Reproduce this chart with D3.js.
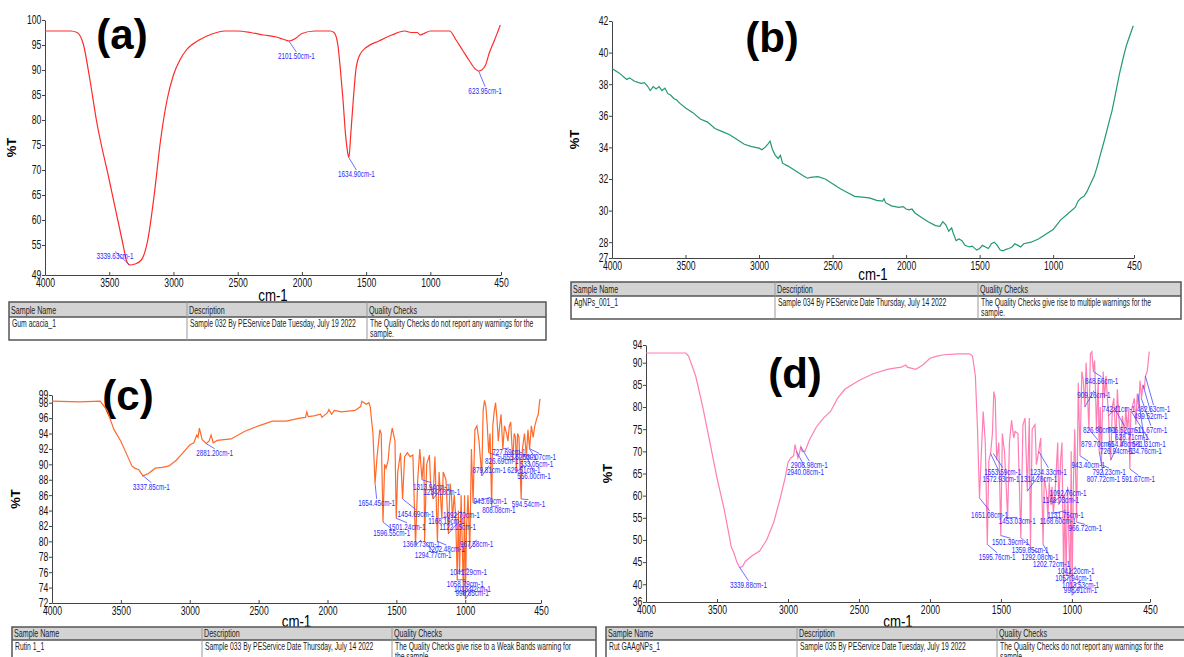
<!DOCTYPE html>
<html>
<head>
<meta charset="utf-8">
<script src="https://cdn.jsdelivr.net/npm/d3@7"></script>
<style>
  body { margin: 0; background: #fff; }
  text { font-family: "Liberation Sans", Arial, sans-serif; }
</style>
</head>
<body>
<div id="chart"></div>
<script>
// ---- data ----
var xTicks = [4000, 3500, 3000, 2500, 2000, 1500, 1000, 450];

var specA = [[4000,97.8],[3800,97.8],[3750,97.5],[3700,95],[3650,88],[3600,80],[3500,68],[3400,56],[3360,51.5],[3340,51],[3300,51.2],[3250,52],[3200,56],[3150,65],[3100,76],[3050,84],[3000,89],[2950,92],[2900,94],[2800,96],[2700,97.2],[2600,97.8],[2500,97.8],[2400,97.5],[2300,97],[2200,96.6],[2150,96.2],[2100,95.8],[2050,96.3],[2000,97.3],[1900,97.8],[1780,97.8],[1750,97.5],[1720,95],[1700,90],[1680,84],[1660,77],[1640,73],[1634,72.5],[1620,77],[1600,84],[1580,90],[1550,93],[1500,94.5],[1400,95.8],[1300,97],[1200,97.8],[1150,97.5],[1100,97.5],[1080,97],[1050,97.3],[1000,97.8],[900,97.8],[850,97.8],[800,96],[750,94],[700,92],[650,90.2],[624,89.8],[600,90],[570,91],[540,93.5],[500,96],[470,98],[455,99]];

var specB = [[4000,39.0],[3950,38.7],[3900,38.3],[3880,38.4],[3850,38.2],[3820,38.1],[3800,38.05],[3780,38.1],[3760,37.9],[3740,37.6],[3720,37.85],[3700,37.7],[3680,37.85],[3660,37.6],[3640,37.75],[3620,37.4],[3600,37.3],[3580,37.1],[3560,37.0],[3540,36.8],[3500,36.5],[3450,36.2],[3400,35.8],[3350,35.6],[3300,35.2],[3250,35.0],[3200,34.8],[3150,34.5],[3100,34.2],[3050,34.05],[3000,33.95],[2980,33.85],[2960,34.0],[2940,34.2],[2925,34.4],[2910,33.9],[2890,33.5],[2870,33.3],[2855,33.5],[2840,33.0],[2800,32.8],[2750,32.5],[2700,32.2],[2670,32.05],[2650,32.1],[2600,32.15],[2550,32.0],[2500,31.7],[2450,31.4],[2400,31.15],[2350,30.9],[2300,30.85],[2250,30.8],[2200,30.65],[2160,30.6],[2150,30.75],[2140,30.5],[2100,30.3],[2050,30.2],[2020,30.25],[2000,30.1],[1980,30.05],[1960,30.1],[1940,29.85],[1900,29.6],[1850,29.3],[1800,29.05],[1770,29.0],[1750,29.3],[1730,29.1],[1710,28.7],[1690,28.9],[1680,28.6],[1660,28.1],[1640,28.2],[1620,28.1],[1600,27.8],[1570,27.7],[1550,27.75],[1520,27.5],[1500,27.6],[1480,27.8],[1460,27.7],[1440,27.6],[1420,27.9],[1400,28.0],[1380,27.8],[1360,27.5],[1340,27.45],[1320,27.55],[1300,27.6],[1280,27.7],[1260,27.9],[1240,27.8],[1220,27.7],[1200,27.9],[1150,28.0],[1100,28.2],[1050,28.5],[1000,28.8],[950,29.4],[900,29.8],[850,30.2],[830,30.6],[810,30.8],[790,30.9],[770,31.2],[750,31.6],[720,32.2],[700,32.8],[680,33.5],[650,34.5],[620,35.6],[600,36.3],[580,37.2],[550,38.6],[520,39.8],[500,40.5],[470,41.3],[455,41.7]];

var specC = [[4000,98.2],[3800,98.1],[3650,98.2],[3600,97],[3550,94.5],[3500,93],[3450,91],[3420,89.8],[3400,89.5],[3370,89.3],[3340,88.5],[3300,88.8],[3250,89.5],[3200,89.6],[3150,89.8],[3100,90.5],[3050,91.5],[3000,92.5],[2970,92.8],[2950,93.8],[2940,93.5],[2930,94.7],[2910,93.2],[2880,92.7],[2860,93],[2845,93.8],[2830,92.8],[2800,93.1],[2700,93.3],[2600,94.3],[2500,95],[2400,95.6],[2300,95.6],[2200,96],[2160,96.1],[2150,96.8],[2140,96.2],[2100,96.3],[2050,96.5],[2040,96.1],[2000,96.7],[1990,97.1],[1970,96.5],[1950,97],[1900,96.8],[1800,97],[1760,97.5],[1750,98.2],[1720,97.8],[1700,98],[1690,97.5],[1670,94],[1655,87.5],[1640,91],[1620,94.5],[1610,94],[1597,82.5],[1585,90],[1575,89.5],[1560,90.5],[1550,92.5],[1530,94.7],[1510,93],[1501,83],[1490,89],[1470,91.5],[1455,85.5],[1440,91],[1420,91.5],[1400,91],[1380,91.2],[1361,79.5],[1345,88],[1330,92],[1314,88],[1300,91],[1295,80],[1280,90],[1260,91.2],[1250,87],[1234,85.5],[1220,91],[1202,80],[1190,89],[1170,83],[1160,89],[1140,88],[1122,81],[1110,87.5],[1100,86],[1093,83],[1080,86],[1070,83.5],[1058,75],[1050,84],[1041,76],[1030,86],[1013,73],[1005,86],[999,72.5],[990,82],[980,86],[967,79],[955,92],[943,85],[930,94.5],[915,95],[900,93],[880,88.5],[870,97],[860,98.3],[850,97.5],[840,95],[830,91.5],[820,94],[808,84.5],[800,95],[790,96.8],[780,98],[770,96],[760,93],[750,95],[740,96.5],[727,92],[715,95],[700,94],[690,93],[680,95],[670,95.5],[655,90.5],[645,94],[635,93.5],[629,89],[620,94],[610,93.5],[594,85.5],[585,92],[570,94],[556,91],[545,94.5],[533,92],[520,95],[507,93.5],[495,95],[480,96],[470,96.5],[460,98.2],[455,98.5]];

var specD = [[4000,92.2],[3720,92.2],[3700,91.5],[3650,87],[3600,80],[3550,72],[3500,64],[3450,57],[3420,52],[3400,48.5],[3380,47],[3360,45],[3340,43.8],[3320,44],[3300,45.2],[3250,46.5],[3200,47.5],[3150,50],[3100,54],[3050,60],[3020,64],[3000,67.5],[2980,68.5],[2960,69],[2950,71.5],[2940,70],[2930,68.5],[2920,69.5],[2910,71],[2900,70],[2880,70],[2850,72.5],[2800,75.5],[2750,77.5],[2700,79],[2650,82],[2600,84],[2500,86],[2400,87.5],[2300,88.5],[2250,88.8],[2200,89],[2170,89.5],[2160,89],[2100,88.5],[2050,89.5],[2000,91],[1950,91.5],[1900,91.8],[1800,92],[1720,92],[1700,91.5],[1680,87],[1665,75],[1651,59.5],[1640,68],[1625,79],[1610,72],[1596,49],[1585,68],[1573,69.5],[1560,74],[1550,83.5],[1540,82],[1530,68],[1515,72],[1501,51],[1490,74],[1475,70],[1460,60],[1453,55],[1440,72],[1425,77],[1410,73],[1400,74.5],[1380,74],[1360,50.5],[1345,76],[1330,77.5],[1314,61],[1300,77.5],[1292,48],[1280,75],[1260,76],[1250,67],[1234,70],[1220,73],[1203,49],[1195,64],[1180,61],[1169,55],[1160,63],[1149,58],[1140,62],[1131,56],[1120,60],[1100,72],[1093,58],[1080,68],[1070,72],[1058,40.5],[1050,60],[1041,42],[1030,62],[1013,39],[1005,70],[999,37.5],[990,62],[980,75],[967,54],[955,85.5],[943,69],[930,88],[920,86],[909,80],[900,90],[880,75],[870,92],[860,92.5],[849,88],[840,90.5],[827,75],[815,86],[808,70],[800,80],[792,67],[780,88],[770,82],[760,87],[742,78],[735,72],[727,68],[715,80],[705,82],[690,72],[680,84],[670,78],[654,71],[645,78],[629,74],[620,80],[612,75],[600,79],[592,66],[585,79],[575,80],[560,82],[550,76],[540,83],[530,80],[520,86],[510,82],[500,85],[490,84],[482,87],[470,88],[460,91],[455,92.5]];

// peaks: [wavenumber, %T, label]
var peaksA = [[3339.63,51,"3339.63cm-1"],[2101.5,95.8,"2101.50cm-1"],[1634.9,72.5,"1634.90cm-1"],[623.95,89.8,"623.95cm-1"]];
var peaksC = [[3337.85,88.5,"3337.85cm-1"],[2881.2,92.7,"2881.20cm-1"],[1654.45,87.5,"1654.45cm-1"],[1596.55,82.5,"1596.55cm-1"],[1501.24,83,"1501.24cm-1"],[1454.69,85.5,"1454.69cm-1"],[1360.73,79.5,"1360.73cm-1"],[1294.77,80,"1294.77cm-1"],[1202.48,80,"1202.48cm-1"],[1313.94,88,"1313.94cm-1"],[1234.18,85.5,"1234.18cm-1"],[1092.7,83,"1092.70cm-1"],[1168.19,83,"1168.19cm-1"],[1122.15,81,"1122.15cm-1"],[967.58,79,"967.58cm-1"],[1041.29,76,"1041.29cm-1"],[1058.79,75,"1058.79cm-1"],[1013.02,73,"1013.02cm-1"],[998.85,72.5,"998.85cm-1"],[943.69,85,"943.69cm-1"],[808.08,84.5,"808.08cm-1"],[879.81,88.5,"879.81cm-1"],[826.69,91.5,"826.69cm-1"],[727.69,92,"727.69cm-1"],[655.52,90.5,"655.52cm-1"],[530.07,92,"530.07cm-1"],[533.05,92,"533.05cm-1"],[629.51,89,"629.51cm-1"],[556.0,91,"556.00cm-1"],[594.54,85.5,"594.54cm-1"]];
var peaksD = [[3339.88,43.8,"3339.88cm-1"],[2908.98,71,"2908.98cm-1"],[2940.08,70,"2940.08cm-1"],[1651.08,59.5,"1651.08cm-1"],[1595.76,49,"1595.76cm-1"],[1501.39,51,"1501.39cm-1"],[1453.03,55,"1453.03cm-1"],[1359.85,50.5,"1359.85cm-1"],[1292.08,48,"1292.08cm-1"],[1202.72,49,"1202.72cm-1"],[1553.59,69.5,"1553.59cm-1"],[1572.93,69.5,"1572.93cm-1"],[1314.28,61,"1314.28cm-1"],[1234.33,70,"1234.33cm-1"],[1092.76,58,"1092.76cm-1"],[1148.73,58,"1148.73cm-1"],[1131.75,56,"1131.75cm-1"],[1168.6,55,"1168.60cm-1"],[966.72,54,"966.72cm-1"],[1041.2,42,"1041.20cm-1"],[1057.94,40.5,"1057.94cm-1"],[1013.53,39,"1013.53cm-1"],[998.91,37.5,"998.91cm-1"],[943.4,69,"943.40cm-1"],[848.56,88,"848.56cm-1"],[909.16,80,"909.16cm-1"],[742.11,78,"742.11cm-1"],[482.63,87,"482.63cm-1"],[499.52,85,"499.52cm-1"],[826.9,75,"826.90cm-1"],[706.52,80,"706.52cm-1"],[511.67,82,"511.67cm-1"],[628.71,74,"628.71cm-1"],[879.7,75,"879.70cm-1"],[654.48,71,"654.48cm-1"],[581.31,79,"581.31cm-1"],[726.94,68,"726.94cm-1"],[534.76,83,"534.76cm-1"],[792.23,67,"792.23cm-1"],[807.72,70,"807.72cm-1"],[591.67,66,"591.67cm-1"]];

// where each peak label sits, in data units [wavenumber, %T] (same order as the peaks)
var labelPosA = [[3455,52.9],[2043,92.8],[1576,69.2],[574,85.9]];
var labelPosC = [[3279,87.1],[2819,91.5],[1643,85.0],[1534,81.1],[1423,81.9],[1358,83.6],[1319,79.7],[1233,78.2],[1137,79.0],[1246,87.1],[1171,86.4],[1028,83.4],[1137,82.7],[1054,81.9],[917,79.7],[976,76.0],[1000,74.5],[948,73.8],[950,73.3],[818,85.2],[756,84.1],[826,89.3],[735,90.4],[683,91.6],[604,91.0],[462,90.9],[483,90.1],[574,89.3],[501,88.5],[541,84.9]];
var labelPosD = [[3278,39.9],[2850,66.9],[2877,65.3],[1580,55.7],[1527,46.2],[1433,49.5],[1385,54.2],[1294,47.8],[1225,46.2],[1144,44.6],[1487,65.4],[1500,63.7],[1233,63.7],[1166,65.4],[1027,60.6],[1078,59.0],[1045,55.7],[1099,54.2],[906,52.6],[971,43.1],[987,41.5],[939,39.9],[939,38.8],[885,66.9],[791,85.9],[845,82.8],[671,79.5],[425,79.5],[444,77.9],[805,74.9],[631,74.9],[444,74.9],[578,73.3],[818,71.7],[631,71.7],[457,71.7],[684,70.1],[484,70.1],[738,65.3],[778,63.7],[532,63.7]];

var tableHead = ["Sample Name", "Description", "Quality Checks"];
var tableA = ["Gum acacia_1", "Sample 032 By PEService Date Tuesday, July 19 2022", ["The Quality Checks do not report any warnings for the", "sample."]];
var tableB = ["AgNPs_001_1", "Sample 034 By PEService Date Thursday, July 14 2022", ["The Quality Checks give rise to multiple warnings for the", "sample."]];
var tableC = ["Rutin 1_1", "Sample 033 By PEService Date Thursday, July 14 2022", ["The Quality Checks give rise to a Weak Bands warning for", "the sample."]];
var tableD = ["Rut GAAgNPs_1", "Sample 035 By PEService Date Tuesday, July 19 2022", ["The Quality Checks do not report any warnings for the", "sample."]];

// ---- drawing ----
var width = 1184, height = 657;
var svg = d3.select("#chart").append("svg")
    .attr("width", width).attr("height", height);
svg.append("rect").attr("width", width).attr("height", height).attr("fill", "#fff");

// the instrument software uses a narrow font, squeeze text horizontally
function narrowText(g, x, y, s, sx) {
    return g.append("text")
        .attr("transform", "translate(" + x + "," + y + ") scale(" + sx + ",1)")
        .text(s);
}

var panels = [
  {tag: "(a)", data: specA, color: "#ff2a2a", yDom: [49, 100], yTicks: [100,95,90,85,80,75,70,65,60,55,49],
   x0: 45, x1: 501, yTop: 20, yBot: 275, peaks: peaksA, labels: labelPosA, curve: d3.curveMonotoneX,
   tagPos: [122, 49], titleY: 301, yLabX: 16,
   table: tableA, tab: {y: 302, cols: [9, 187, 367, 546], h1: 15, h2: 23}},
  {tag: "(b)", data: specB, color: "#239a6b", yDom: [27, 42], yTicks: [42,40,38,36,34,32,30,28,27],
   x0: 612, x1: 1134, yTop: 21, yBot: 258, peaks: [], labels: [], curve: d3.curveLinear,
   tagPos: [772, 52], titleY: 280, yLabX: 579,
   table: tableB, tab: {y: 282, cols: [571, 775, 978, 1181], h1: 14, h2: 23}},
  {tag: "(c)", data: specC, color: "#ff6a2b", yDom: [72, 99], yTicks: [99,98,96,94,92,90,88,86,84,82,80,78,76,74,72],
   x0: 52, x1: 541, yTop: 395, yBot: 603, peaks: peaksC, labels: labelPosC, curve: d3.curveLinear,
   tagPos: [128, 410], titleY: 627, yLabX: 20,
   table: tableC, tab: {y: 627, cols: [12, 202, 392, 596], h1: 13, h2: 24}},
  {tag: "(d)", data: specD, color: "#ff7fb4", yDom: [36, 94], yTicks: [94,90,85,80,75,70,65,60,55,50,45,40,36],
   x0: 646, x1: 1150, yTop: 345, yBot: 602, peaks: peaksD, labels: labelPosD, curve: d3.curveLinear,
   tagPos: [795, 388], titleY: 627, yLabX: 612,
   table: tableD, tab: {y: 627, cols: [606, 797, 997, 1186], h1: 13, h2: 24}}
];

panels.forEach(function(p) {
    var g = svg.append("g");
    var x = d3.scaleLinear().domain([4000, 450]).range([p.x0, p.x1]);
    var y = d3.scaleLinear().domain(p.yDom).range([p.yBot, p.yTop]);

    var xAxis = g.append("g")
        .attr("transform", "translate(0," + p.yBot + ")")
        .call(d3.axisBottom(x).tickValues(xTicks).tickSize(-3).tickSizeOuter(0).tickPadding(3).tickFormat(d3.format("d")));
    var yAxis = g.append("g")
        .attr("transform", "translate(" + p.x0 + ",0)")
        .call(d3.axisLeft(y).tickValues(p.yTicks).tickSize(3).tickSizeOuter(0).tickPadding(2).tickFormat(d3.format("d")));
    [xAxis, yAxis].forEach(function(a) {
        a.selectAll("text").attr("font-size", 12).attr("fill", "#111")
            .attr("transform", "scale(0.72,1)");
        a.selectAll("path,line").attr("stroke", "#444");
    });

    narrowText(g, (p.x0 + p.x1) / 2, p.titleY, "cm-1", 0.78)
        .attr("text-anchor", "middle").attr("font-size", 17);
    g.append("text")
        .attr("transform", "translate(" + p.yLabX + "," + ((p.yTop + p.yBot) / 2) + ") rotate(-90)")
        .attr("text-anchor", "middle").attr("font-size", 13).attr("font-weight", "bold")
        .text("%T");
    g.append("text")
        .attr("x", p.tagPos[0]).attr("y", p.tagPos[1])
        .attr("text-anchor", "middle").attr("font-size", 42).attr("font-weight", "bold")
        .attr("font-family", "Lato, 'Open Sans', sans-serif")
        .text(p.tag);

    var line = d3.line()
        .x(function(d) { return x(d[0]); })
        .y(function(d) { return y(d[1]); })
        .curve(p.curve);
    g.append("path").datum(p.data)
        .attr("d", line).attr("fill", "none")
        .attr("stroke", p.color).attr("stroke-width", 1.2);

    // peak labels with leader lines
    p.peaks.forEach(function(pk, i) {
        var lp = p.labels[i];
        g.append("line")
            .attr("x1", x(pk[0])).attr("y1", y(pk[1]))
            .attr("x2", x(lp[0])).attr("y2", y(lp[1]) - 4)
            .attr("stroke", "#4a4aff").attr("stroke-width", 0.8);
        narrowText(g, x(lp[0]), y(lp[1]) + 3, pk[2], 0.72)
            .attr("text-anchor", "middle").attr("font-size", 8.8)
            .attr("fill", "#2a2aff");
    });

    // sample table
    var t = p.tab, c = t.cols;
    var tg = g.append("g");
    tg.append("rect").attr("x", c[0]).attr("y", t.y).attr("width", c[3] - c[0]).attr("height", t.h1)
        .attr("fill", "#d3d3d3");
    tg.append("rect").attr("x", c[0]).attr("y", t.y).attr("width", c[3] - c[0]).attr("height", t.h1 + t.h2)
        .attr("fill", "none").attr("stroke", "#555").attr("stroke-width", 1.5);
    tg.append("line").attr("x1", c[0]).attr("x2", c[3]).attr("y1", t.y + t.h1).attr("y2", t.y + t.h1)
        .attr("stroke", "#555").attr("stroke-width", 1.5);
    [c[1], c[2]].forEach(function(cx) {
        tg.append("line").attr("x1", cx).attr("x2", cx).attr("y1", t.y).attr("y2", t.y + t.h1 + t.h2)
            .attr("stroke", "#999").attr("stroke-width", 1);
    });
    tableHead.forEach(function(h, i) {
        narrowText(tg, c[i] + 2, t.y + t.h1 - 3.5, h, 0.68)
            .attr("font-size", 10.5).attr("fill", "#222");
    });
    p.table.forEach(function(v, i) {
        var lines = Array.isArray(v) ? v : [v];
        lines.forEach(function(s, j) {
            narrowText(tg, c[i] + 3, t.y + t.h1 + 10 + j * 10, s, 0.65)
                .attr("font-size", 10.5).attr("fill", "#222");
        });
    });
});
</script>
</body>
</html>
